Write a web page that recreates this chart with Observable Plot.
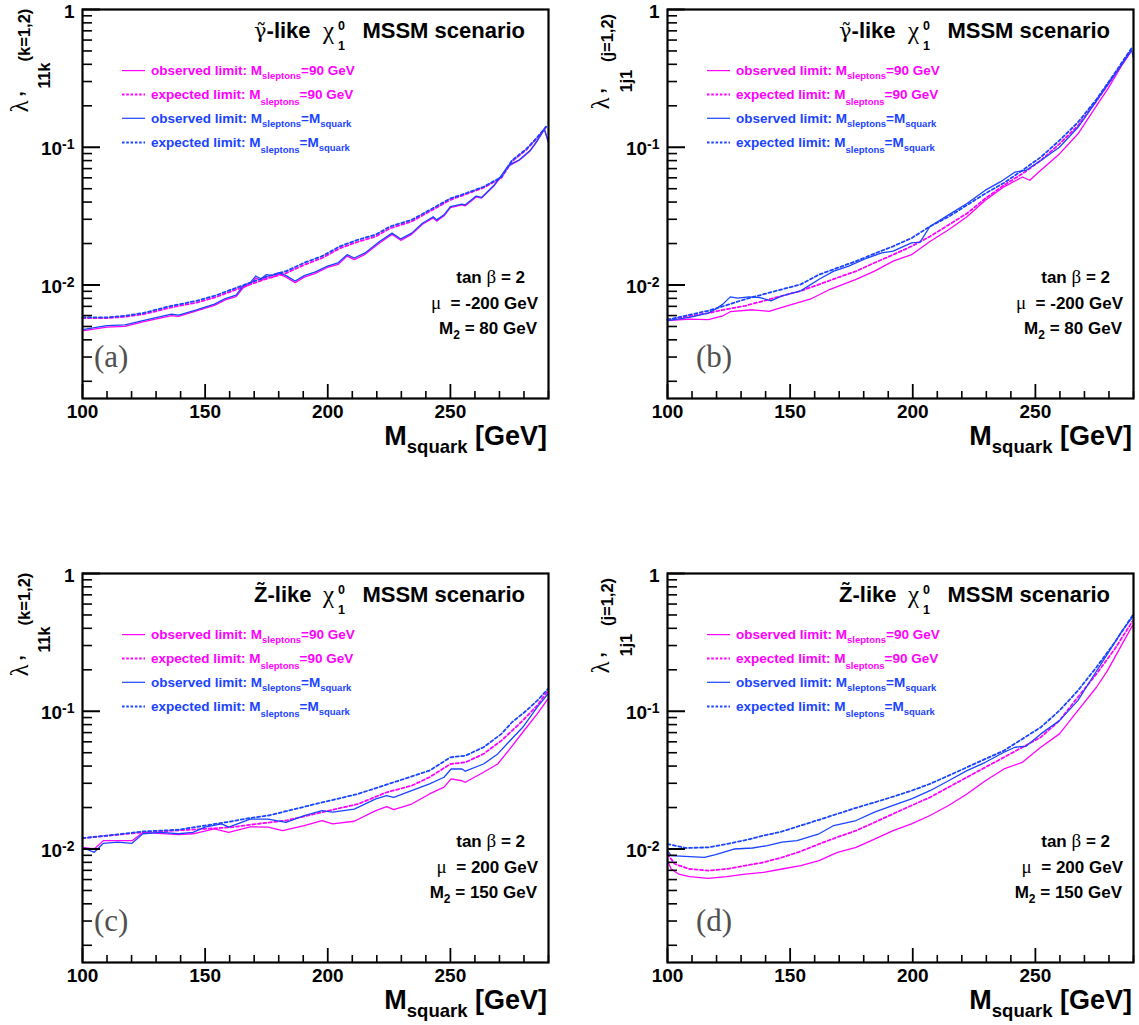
<!DOCTYPE html>
<html><head><meta charset="utf-8">
<script src="https://cdn.jsdelivr.net/npm/d3@7"></script>
<script src="https://cdn.jsdelivr.net/npm/@observablehq/plot@0.6"></script>
<style>
html,body{margin:0;padding:0;background:#fff;}
#root{position:relative;width:1139px;height:1025px;overflow:hidden;background:#fff;}
.panel{position:absolute;}
</style></head><body>
<div id="root"></div>
<script>
// ---------- axis ticks ----------
const xMajor = [100, 150, 200, 250];
const xMinor = [110, 120, 130, 140, 160, 170, 180, 190, 210, 220, 230, 240, 260, 270, 280, 290];
const yMajor = [1, 0.1, 0.01];
const yMinor = [0.9, 0.8, 0.7, 0.6, 0.5, 0.4, 0.3, 0.2, 0.09, 0.08, 0.07, 0.06, 0.05, 0.04, 0.03, 0.02,
                0.009, 0.008, 0.007, 0.006, 0.005, 0.004, 0.003, 0.002];

// ---------- panel (a): photino-like, lambda'_11k ----------
const a_obs90 = [[100,.00465],[109.9,.00495],[117.3,.0050],[124.6,.0054],[136.3,.0060],[139.2,.00592],[146.5,.00648],[153.8,.00712],[158.2,.0078],[162.6,.00825],[165.5,.00955],[168.4,.0101],[170.6,.0112],[172.8,.0108],[175,.0115],[177.2,.0113],[180.1,.0120],[183,.0114],[186.7,.0104],[190.4,.0114],[194.7,.0121],[199.9,.0134],[204.2,.0141],[207.9,.0162],[210.8,.0153],[215.2,.0167],[221.1,.0202],[226.2,.0233],[229.8,.0211],[234.2,.0233],[238.6,.0276],[243,.0307],[244.4,.0291],[247.4,.0318],[250,.0364],[254.7,.0381],[256.1,.0376],[260.5,.0436],[262.7,.0427],[267.8,.0525],[270.8,.0618],[273.7,.0730],[278.1,.0805],[282.5,.0940],[285.4,.1110],[288.3,.1350],[290,.1080]];
const a_exp90 = [[100,.00575],[109.9,.00575],[117.3,.00588],[124.6,.00612],[136.3,.00688],[146.5,.00745],[153.8,.0081],[161.1,.00905],[168.4,.0101],[175.7,.0112],[183,.0122],[190.4,.0140],[197.7,.0157],[205,.0185],[212.3,.0206],[219.6,.0225],[225.4,.0258],[234.2,.0289],[241.5,.0342],[250,.0415],[256.1,.0455],[263.5,.0508],[270.8,.0600],[275.1,.0790],[281,.0960],[285.4,.1170],[289,.1400]];
const a_obsSq = [[100,.00474],[109.9,.00507],[117.3,.00513],[124.6,.00551],[136.3,.00615],[139.2,.00605],[146.5,.00661],[153.8,.00726],[158.2,.00798],[162.6,.00843],[165.5,.00984],[168.4,.0104],[170.6,.0116],[172.8,.0111],[175,.0119],[177.2,.0117],[180.1,.0123],[183,.0117],[186.7,.0107],[190.4,.0117],[194.7,.0124],[199.9,.0137],[204.2,.0145],[207.9,.0166],[210.8,.0157],[215.2,.0171],[221.1,.0207],[226.2,.0238],[229.8,.0216],[234.2,.0238],[238.6,.0281],[243,.0313],[244.4,.0297],[247.4,.0323],[250,.0370],[254.7,.0387],[256.1,.0382],[260.5,.0442],[262.7,.0432],[267.8,.0530],[270.8,.0625],[273.7,.0738],[278.1,.0811],[282.5,.0946],[285.4,.1117],[288.3,.1355],[290,.1086]];
const a_expSq = [[100,.00582],[109.9,.00582],[117.3,.00598],[124.6,.00625],[136.3,.00706],[146.5,.00767],[153.8,.00834],[161.1,.00931],[168.4,.0104],[175.7,.0116],[183,.0126],[190.4,.0145],[197.7,.0162],[205,.0191],[212.3,.0213],[219.6,.0232],[225.4,.0266],[234.2,.0297],[241.5,.0350],[250,.0425],[256.1,.0462],[263.5,.0516],[270.8,.0608],[275.1,.0802],[281,.0973],[285.4,.1180],[289,.1410]];

// ---------- panel (b): photino-like, lambda'_1j1 ----------
const b_obs90 = [[100,.00551],[109,.00566],[116.6,.0056],[122.6,.00598],[125.6,.0064],[134.7,.00661],[141.4,.00643],[146.7,.00687],[158.8,.00798],[166.3,.00931],[176.9,.0110],[184.4,.0126],[192,.0149],[199.5,.0166],[207,.0207],[214.6,.0252],[222.1,.0313],[229.6,.0413],[237.2,.0516],[244.7,.0608],[247.7,.0576],[252.2,.0680],[259.8,.0895],[267.3,.1247],[274.9,.1995],[279.4,.263],[285.4,.397],[289.2,.501]];
const b_exp90 = [[100,.0056],[116.6,.00625],[124.1,.00668],[131.7,.00706],[139.2,.00767],[146.7,.00834],[154.3,.00906],[161.8,.0101],[169.3,.0113],[176.9,.0126],[184.4,.0145],[192,.0166],[199.5,.0191],[207,.0225],[214.6,.0273],[222.1,.0331],[229.6,.0425],[237.2,.0530],[244.7,.0643],[252.2,.0802],[259.8,.1057],[267.3,.1432],[274.9,.2167],[282.4,.337],[289.2,.510]];
const b_obsSq = [[100,.00551],[109,.00582],[116.6,.00625],[119.6,.00668],[122.6,.00726],[125.6,.0082],[128.6,.00802],[133.2,.0082],[137.7,.00811],[142.2,.00767],[146.7,.00834],[154.3,.00906],[161.8,.0110],[167.8,.0126],[173.9,.0137],[181.4,.0157],[187.4,.0171],[192,.0176],[199.5,.0202],[203,.0205],[207,.0266],[214.6,.0323],[222.1,.0391],[229.6,.0488],[235.7,.0560],[241.7,.0661],[246.2,.0680],[252.2,.0802],[259.8,.100],[267.3,.139],[274.9,.2167],[282.4,.337],[289.2,.510],[290,.444]];
const b_expSq = [[100,.0056],[116.6,.0065],[124.1,.00714],[131.7,.00789],[139.2,.00857],[146.7,.00931],[154.3,.0101],[161.8,.0119],[169.3,.0133],[176.9,.0149],[184.4,.0169],[192,.0191],[199.5,.0219],[207,.0266],[214.6,.0313],[222.1,.0380],[229.6,.0462],[237.2,.0551],[244.7,.0680],[252.2,.0847],[259.8,.112],[267.3,.1513],[274.9,.2228],[282.4,.3465],[289.2,.524]];

// ---------- panel (c): zino-like, lambda'_11k ----------
const c_obs90 = [[100,.01028],[104.8,.0100],[108.5,.0115],[120.2,.0115],[124.6,.0132],[139.2,.0127],[145,.0129],[153.8,.0140],[159.6,.0132],[168.4,.0145],[175.7,.0144],[181.6,.0136],[190.4,.0148],[197.7,.0161],[202,.0152],[210.8,.0159],[219.6,.0190],[224,.0203],[226.9,.0193],[234.2,.0212],[241.5,.0251],[247.4,.0281],[250.3,.0323],[254.7,.0313],[256.1,.0305],[263.5,.0361],[269.3,.0414],[273.7,.0518],[279.5,.0704],[285.4,.0957],[289.8,.123]];
const c_exp90 = [[100,.0120],[124.6,.0132],[149.9,.0140],[161.1,.0144],[168.4,.0150],[183,.0161],[197.7,.0185],[212.3,.0212],[224,.0258],[234.2,.0288],[241.5,.0332],[250,.0414],[256.1,.0426],[263.5,.0490],[270.8,.0612],[278.1,.0809],[285.4,.110],[289.8,.141]];
const c_obsSq = [[100,.01028],[102.6,.00983],[104.8,.00946],[108.5,.0110],[114.3,.0112],[120.2,.0110],[124.6,.0129],[131.9,.0132],[139.2,.0129],[145,.0132],[149.9,.0144],[156.7,.0152],[159.6,.0144],[168.4,.0165],[175.7,.0165],[183,.0156],[190.4,.0175],[197.7,.0190],[202,.0185],[210.8,.0195],[219.6,.0231],[224,.0244],[226.9,.0237],[234.2,.0265],[241.5,.0297],[247.4,.0332],[250.3,.0381],[254.7,.0381],[256.1,.0367],[263.5,.0414],[269.3,.0490],[273.7,.0595],[279.5,.0765],[285.4,.107],[289.8,.1336]];
const c_expSq = [[100,.0120],[109.9,.0125],[124.6,.0134],[139.2,.0138],[149.9,.0148],[161.1,.0159],[168.4,.0168],[175.7,.0175],[183,.0188],[197.7,.0218],[212.3,.0251],[226.9,.0305],[241.5,.0371],[250,.0463],[256.1,.0476],[263.5,.0548],[270.8,.0685],[275.1,.0832],[281,.1011],[285.4,.1195],[289.8,.1453]];

// ---------- panel (d): zino-like, lambda'_1j1 ----------
const d_obs90 = [[100,.00823],[101.5,.00716],[104.5,.00658],[109,.0063],[116.6,.00612],[124.1,.0063],[131.7,.00658],[139.2,.00677],[146.7,.00716],[154.3,.00757],[161.8,.00823],[169.3,.00946],[176.9,.01028],[184.4,.0118],[192,.0136],[199.5,.0152],[207,.0175],[214.6,.0207],[222.1,.0251],[229.6,.0313],[237.2,.0381],[244.7,.0426],[252.2,.0548],[259.8,.0685],[267.3,.1011],[274.9,.1494],[279.4,.1974],[285.4,.3084],[289.6,.419]];
const d_exp90 = [[100,.0092],[103,.00778],[109,.00716],[116.6,.00696],[124.1,.00716],[131.7,.00757],[139.2,.0080],[146.7,.00869],[154.3,.00962],[161.8,.01087],[169.3,.0122],[176.9,.0136],[184.4,.0156],[192,.0180],[199.5,.0207],[207,.0237],[214.6,.0281],[222.1,.0332],[229.6,.0392],[237.2,.0463],[244.7,.0548],[252.2,.0648],[259.8,.0855],[267.3,.1264],[274.9,.1866],[282.4,.2838],[289.6,.451]];
const d_obsSq = [[100,.00973],[101.5,.00895],[109,.0088],[115.1,.00869],[119.6,.0091],[127.1,.0100],[134.7,.01017],[140.7,.01057],[146.7,.0112],[152.8,.0115],[161.8,.0129],[167.8,.0148],[176.9,.0161],[184.4,.0185],[192,.0207],[199.5,.0231],[207,.0265],[214.6,.0313],[222.1,.0371],[229.6,.0426],[237.2,.0504],[241.7,.0548],[246.2,.0557],[252.2,.0685],[259.8,.0855],[267.3,.1195],[273.3,.1766],[279.4,.2609],[285.4,.385],[289.6,.482]];
const d_expSq = [[100,.01087],[107.5,.01017],[116.6,.01028],[124.1,.01087],[131.7,.0116],[139.2,.0125],[146.7,.0134],[154.3,.0148],[161.8,.0163],[169.3,.0180],[176.9,.0199],[184.4,.0218],[192,.0240],[199.5,.0265],[207,.0297],[214.6,.0341],[222.1,.0392],[229.6,.0451],[237.2,.0518],[244.7,.0630],[252.2,.0765],[259.8,.1011],[267.3,.141],[274.9,.2088],[282.4,.317],[289.6,.495]];

// ---------- labels ----------
const legendTexts = [
  [{t:"observed limit: M"},{t:"sleptons",sub:4},{t:"=90 GeV"}],
  [{t:"expected limit: M"},{t:"sleptons",sub:6},{t:"=90 GeV"}],
  [{t:"observed limit: M"},{t:"sleptons",sub:4},{t:"=M"},{t:"squark",sub:4}],
  [{t:"expected limit: M"},{t:"sleptons",sub:6},{t:"=M"},{t:"squark",sub:4}]
];

const SANS = "'Liberation Sans', Arial, Helvetica, sans-serif";
const SERIF = "'Liberation Serif', 'Times New Roman', serif";
const GREEKSERIF = "'DejaVu Serif', 'Liberation Serif', serif";
const MAG = "#ff00ff", BLUE = "#1a44ff";

const panels = [
  {id:"a", left:0, top:0, width:560, mr:12, data:[a_exp90,a_obs90,a_expSq,a_obsSq], lsp:"γ\u0303", lspSerif:true,
   sub:"11k", sup:"(k=1,2)", mu:"-200", m2:"80", tag:"(a)", tagDx:12,
   yl:{lam:[-63.5,97.5], apo:[-55,85], sub:[-38,66.5], sup:[-58.5,26]}},
  {id:"b", left:585, top:0, width:554, mr:6, data:[b_exp90,b_obs90,b_expSq,b_obsSq], lsp:"γ\u0303", lspSerif:true,
   sub:"1j1", sup:"(j=1,2)", mu:"-200", m2:"80", tag:"(b)", tagDx:29,
   yl:{lam:[-67,94.5], apo:[-59,82], sub:[-41,72], sup:[-60.5,29]}},
  {id:"c", left:0, top:564, width:560, mr:12, data:[c_exp90,c_obs90,c_expSq,c_obsSq], lsp:"Z\u0303", lspSerif:false,
   sub:"11k", sup:"(k=1,2)", mu:"200", m2:"150", tag:"(c)", tagDx:12,
   yl:{lam:[-63.5,97.5], apo:[-55,85], sub:[-38,66.5], sup:[-58.5,26]}},
  {id:"d", left:585, top:564, width:554, mr:6, data:[d_exp90,d_obs90,d_expSq,d_obsSq], lsp:"Z\u0303", lspSerif:false,
   sub:"1j1", sup:"(j=1,2)", mu:"200", m2:"150", tag:"(d)", tagDx:29,
   yl:{lam:[-67,94.5], apo:[-59,82], sub:[-41,72], sup:[-60.5,29]}}
];

function yLabel(d) {
  if (d === 1) return "1";
  return "10^" + Math.round(Math.log10(d));
}

function addText(g, x, y, parts, opt = {}) {
  const t = g.append("text").attr("x", x).attr("y", y)
    .attr("text-anchor", opt.anchor || "start")
    .attr("font-family", SANS).attr("font-weight", "bold").attr("font-size", opt.size || 14)
    .attr("fill", opt.fill || "black");
  if (opt.rotate) t.attr("transform", `rotate(${opt.rotate},${x},${y})`);
  if (opt.baseline) t.attr("dominant-baseline", opt.baseline);
  let prev = 0;
  for (const p of parts) {
    const s = t.append("tspan").text(p.t);
    const sh = p.shift || 0;
    if (sh !== prev) s.attr("dy", sh - prev);
    prev = sh;
    if (p.size) s.attr("font-size", p.size);
    if (p.serif) s.attr("font-family", p.family || SERIF).attr("font-weight", "normal");
    if (p.fill) s.attr("fill", p.fill);
  }
  return t;
}

const root = document.getElementById("root");

for (const cfg of panels) {
  const W = cfg.width, H = 470, ML = 82, MT = 9, MB = 72, MR = cfg.mr;
  const L = ML, T = MT, R = W - MR, B = H - MB;
  const styles = [
    {stroke: MAG, dashed: true}, {stroke: MAG, dashed: false},
    {stroke: BLUE, dashed: true}, {stroke: BLUE, dashed: false}
  ];
  const lineMarks = cfg.data.map((ser, i) => Plot.line(ser, {
    x: d => d[0], y: d => d[1], stroke: styles[i].stroke,
    strokeWidth: styles[i].dashed ? 1.8 : 1.3,
    ...(styles[i].dashed ? {strokeDasharray: "3,2.5"} : {})
  }));
  const plot = Plot.plot({
    width: W, height: H,
    marginLeft: ML, marginRight: MR, marginTop: MT, marginBottom: MB,
    style: {fontFamily: SANS, background: "white", color: "black", overflow: "visible"},
    x: {domain: [100, 290], axis: null},
    y: {type: "log", domain: [0.0015, 1], axis: null},
    marks: [
      ...lineMarks,
      Plot.axisX({ticks: xMinor, tickSize: -7, tickFormat: () => "", label: null, strokeWidth: 1.6}),
      Plot.axisX({ticks: xMajor, tickSize: -14, tickFormat: () => "", label: null, strokeWidth: 1.8}),
      Plot.axisX({ticks: xMajor, tickSize: 0, tickPadding: 6, tickFormat: d => String(d), label: null,
                  fontSize: 19, fontWeight: "bold", fontFamily: SANS}),
      Plot.axisY({ticks: yMinor, tickSize: -10, tickFormat: () => "", label: null, strokeWidth: 1.6}),
      Plot.axisY({ticks: yMajor, tickSize: -18, tickFormat: () => "", label: null, strokeWidth: 2}),
      Plot.axisY({ticks: yMajor, tickSize: 0, tickPadding: 8, tickFormat: yLabel, label: null,
                  fontSize: 19, fontWeight: "bold", fontFamily: SANS, dy: 2}),
      Plot.frame({strokeWidth: 2.2})
    ]
  });
  const svg = d3.select(plot);
  // superscript exponents on y tick labels
  svg.selectAll('g[aria-label="y-axis tick label"] text').each(function () {
    const s = this.textContent;
    if (s.includes("^")) {
      const [base, ex] = s.split("^");
      const t = d3.select(this);
      t.text(null);
      t.append("tspan").text(base);
      t.append("tspan").attr("dy", "-0.45em").attr("font-size", 14).text(ex);
    }
  });

  const g = svg.append("g").attr("class", "annotations");

  // Title
  const titleParts = cfg.lspSerif
    ? [{t: cfg.lsp, serif: true, family: GREEKSERIF, size: 21}, {t: "-like", size: 22}]
    : [{t: cfg.lsp, size: 22}, {t: "-like", size: 22}];
  addText(g, R - 294, T + 29, titleParts, {size: 22});
  addText(g, R - 225, T + 30, [{t: "χ", serif: true}], {size: 25});
  addText(g, R - 210, T + 21, [{t: "0"}], {size: 12.5});
  addText(g, R - 210, T + 41, [{t: "1"}], {size: 12.5});
  addText(g, R - 23, T + 29, [{t: "MSSM scenario"}], {size: 22, anchor: "end"});

  // Legend
  const rowY = [61.6, 85.5, 109.3, 133.4];
  legendTexts.forEach((parts, i) => {
    const col = i < 2 ? MAG : BLUE;
    const dashed = i % 2 === 1;
    g.append("line").attr("x1", L + 40).attr("x2", L + 63)
      .attr("y1", T + rowY[i]).attr("y2", T + rowY[i])
      .attr("stroke", col).attr("stroke-width", dashed ? 2 : 1.2)
      .attr("stroke-dasharray", dashed ? "2.5,1.8" : null);
    addText(g, L + 69, T + rowY[i] + 4.8,
      parts.map(p => p.sub ? {t: p.t, size: 9.5, shift: p.sub} : {t: p.t}),
      {size: 13.5, fill: col});
  });

  // Parameters
  addText(g, R - 23, T + 274, [{t: "tan "}, {t: "β", serif: true, size: 19}, {t: " = 2"}], {size: 17, anchor: "end"});
  addText(g, R - 10, T + 300, [{t: "μ", serif: true, size: 19}, {t: "\u00a0\u00a0= " + cfg.mu + " GeV"}], {size: 17, anchor: "end"});
  addText(g, R - 11, T + 325, [{t: "M"}, {t: "2", size: 12, shift: 5}, {t: " = " + cfg.m2 + " GeV", shift: 0}], {size: 17, anchor: "end"});

  // Panel tag
  addText(g, L + cfg.tagDx, T + 358, [{t: cfg.tag, serif: true}], {size: 31, fill: "#505050"});

  // X axis title
  addText(g, R - 1, B + 47, [{t: "M"}, {t: "squark", size: 18.5, shift: 8}, {t: " [GeV]", shift: 0}], {size: 27, anchor: "end"});

  // Y axis title (rotated)
  const yl = cfg.yl;
  addText(g, L + yl.lam[0], T + yl.lam[1], [{t: "λ", serif: true}], {size: 25, anchor: "middle", rotate: -90, baseline: "central"});
  addText(g, L + yl.apo[0], T + yl.apo[1], [{t: "’"}], {size: 20, anchor: "middle", rotate: -90, baseline: "central"});
  addText(g, L + yl.sub[0], T + yl.sub[1], [{t: cfg.sub}], {size: 16, anchor: "middle", rotate: -90, baseline: "central"});
  addText(g, L + yl.sup[0], T + yl.sup[1], [{t: cfg.sup}], {size: 16.5, anchor: "middle", rotate: -90, baseline: "central"});

  const div = document.createElement("div");
  div.className = "panel";
  div.style.left = cfg.left + "px";
  div.style.top = cfg.top + "px";
  div.style.width = W + "px";
  div.appendChild(plot);
  root.appendChild(div);
}
</script>
</body></html>
